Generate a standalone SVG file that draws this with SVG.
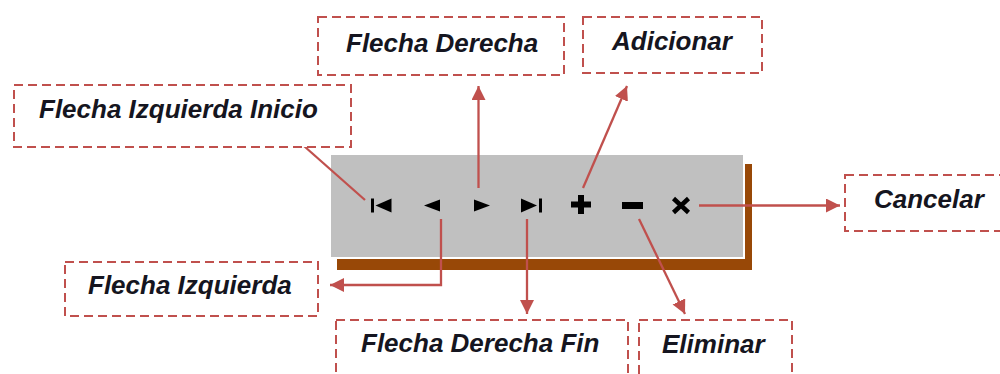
<svg xmlns="http://www.w3.org/2000/svg" width="1000" height="374" viewBox="0 0 1000 374">
<defs>
<marker id="ah" markerUnits="userSpaceOnUse" markerWidth="16" markerHeight="16" refX="14" refY="7" orient="auto">
<path d="M0,0 L14,7 L0,14 Z" fill="#c0504d"/>
</marker>
<style>
.box{fill:#fff;stroke:#c0504d;stroke-width:2;stroke-dasharray:9 5}
.lbl{font-family:"Liberation Sans",Arial,sans-serif;font-style:italic;font-weight:bold;font-size:26px;fill:#151520}
.con{fill:none;stroke:#c0504d;stroke-width:2.3;marker-end:url(#ah)}
.ico{fill:#000}
</style>
</defs>
<rect width="1000" height="374" fill="#fff"/>

<g id="toolbar">
<rect x="337" y="164" width="415" height="106" fill="#984807"/>
<rect x="330" y="154" width="414" height="104" fill="#c0c0c0" stroke="#fff" stroke-width="2"/>
<g id="icon-first" class="ico">
<rect x="371" y="198.5" width="3" height="14"/>
<path d="M375.5,205.5 L391.5,198.5 L391.5,212.5 Z"/>
</g>
<g id="icon-prev" class="ico"><path d="M424,205.5 L440,199.5 L440,211.5 Z"/></g>
<g id="icon-next" class="ico"><path d="M474,199.5 L490,205.5 L474,211.5 Z"/></g>
<g id="icon-last" class="ico">
<path d="M521,198.5 L537,205.5 L521,212.5 Z"/>
<rect x="539" y="198.5" width="3" height="14"/>
</g>
<g id="icon-add" class="ico">
<rect x="571" y="201.5" width="20" height="6"/>
<rect x="578" y="195" width="6" height="19"/>
</g>
<g id="icon-del" class="ico"><rect x="622" y="202" width="21" height="7"/></g>
<g id="icon-cancel"><path d="M673.5,198.5 L688.5,212.5 M688.5,198.5 L673.5,212.5" stroke="#000" stroke-width="4.5" fill="none"/></g>
</g>

<g id="connectors">
<line class="con" x1="365" y1="200" x2="287" y2="131"/>
<line class="con" x1="478.5" y1="188" x2="478.5" y2="86"/>
<line class="con" x1="583" y1="188" x2="627" y2="86"/>
<polyline class="con" points="441,219 441,285 330,285"/>
<line class="con" x1="527" y1="219" x2="527" y2="314"/>
<line class="con" x1="639" y1="219" x2="685" y2="314"/>
<line class="con" x1="699" y1="205.5" x2="840" y2="205.5"/>
</g>

<g id="n-inicio">
<rect class="box" x="14" y="85" width="337" height="62"/>
<text class="lbl" x="39" y="118">Flecha Izquierda Inicio</text>
</g>
<g id="n-derecha">
<rect class="box" x="318" y="17" width="246" height="58"/>
<text class="lbl" x="346" y="51.5">Flecha Derecha</text>
</g>
<g id="n-adicionar">
<rect class="box" x="583" y="17" width="179" height="56"/>
<text class="lbl" x="612" y="50">Adicionar</text>
</g>
<g id="n-izquierda">
<rect class="box" x="65" y="262" width="253" height="54"/>
<text class="lbl" x="88" y="294">Flecha Izquierda</text>
</g>
<g id="n-derechafin">
<rect class="box" x="336" y="320" width="292" height="70"/>
<text class="lbl" x="361" y="352">Flecha Derecha Fin</text>
</g>
<g id="n-eliminar">
<rect class="box" x="639" y="320" width="153" height="70"/>
<text class="lbl" x="662" y="353">Eliminar</text>
</g>
<g id="n-cancelar">
<rect class="box" x="845" y="175" width="170" height="56"/>
<text class="lbl" x="874" y="208">Cancelar</text>
</g>
</svg>
